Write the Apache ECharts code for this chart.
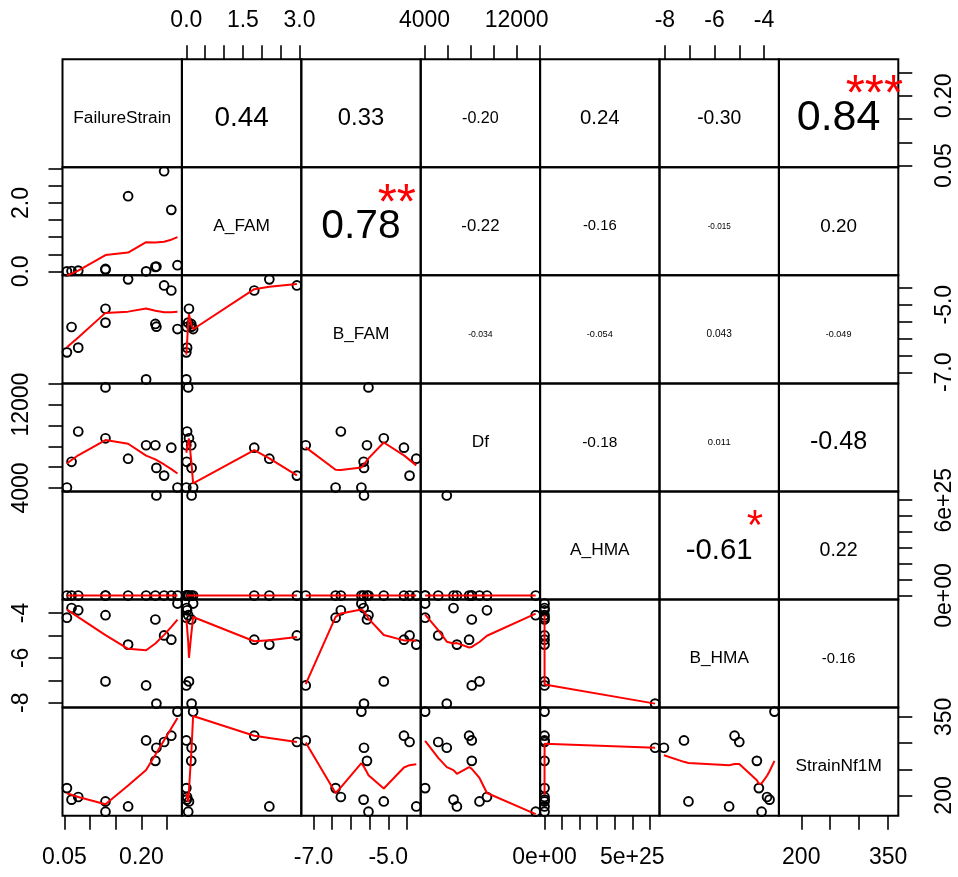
<!DOCTYPE html>
<html><head><meta charset="utf-8">
<script src="https://cdn.jsdelivr.net/npm/echarts@6/dist/echarts.min.js"></script>
<style>html,body{margin:0;padding:0;background:#fff}#c{width:958px;height:877px}</style>
</head><body><div id="c"></div>
<script>
// ---------------- data (12 observations) ----------------
const varNames = ['FailureStrain','A_FAM','B_FAM','Df','A_HMA','B_HMA','StrainNf1M'];
const FailureStrain = [0.055, 0.064, 0.077, 0.130, 0.130, 0.174, 0.209, 0.227, 0.229, 0.244, 0.258, 0.270];
const A_FAM        = [0.00, 0.01, 0.02, 0.07, 0.05, 2.20, 0.00, 0.13, 0.14, 2.93, 1.80, 0.18];
const B_FAM        = [-6.41, -5.66, -6.27, -5.12, -5.53, -4.25, -7.21, -5.57, -5.65, -4.43, -4.58, -5.72];
const Df           = [4050, 6515, 9420, 8770, 13650, 6810, 8100, 8100, 5930, 5190, 7870, 4050];
const A_HMA        = [5e20, 1e20, 2e20, 5e21, 3e20, 1.2e21, 3e22, 8e20, 6.3e25, 2.5e21, 3.5e21, 1.8e21];
const B_HMA        = [-4.21, -3.78, -3.88, -7.05, -4.10, -5.41, -7.23, -4.29, -8.04, -5.00, -5.19, -3.58];
const StrainNf1M   = [214, 192, 197, 188.5, 169, 179, 305, 266, 291, 302, 314, 360];

// correlation texts (upper triangle, row by row) and significance stars
const corrLabels = [
  ['0.44','0.33','-0.20','0.24','-0.30','0.84'],
  ['0.78','-0.22','-0.16','-0.015','0.20'],
  ['-0.034','-0.054','0.043','-0.049'],
  ['-0.18','0.011','-0.48'],
  ['-0.61','0.22'],
  ['-0.16']
];
const corrStars = [
  ['','','','','','***'],
  ['**','','','',''],
  ['','','',''],
  ['','',''],
  ['*',''],
  ['']
];

// tick values and labels per variable
const ticksFailureStrain = [0.05, 0.10, 0.15, 0.20, 0.25];
const labelsFailureStrain = [0.05, 0.20];
const labelTextFailureStrain = ['0.05', '0.20'];
const ticksA_FAM = [0, 0.5, 1.0, 1.5, 2.0, 2.5, 3.0];
const labelsA_FAM_top = [0, 1.5, 3.0];
const labelTextA_FAM_top = ['0.0', '1.5', '3.0'];
const labelsA_FAM_left = [0, 2.0];
const labelTextA_FAM_left = ['0.0', '2.0'];
const ticksB_FAM = [-7.0, -6.5, -6.0, -5.5, -5.0, -4.5];
const labelsB_FAM = [-7.0, -5.0];
const labelTextB_FAM = ['-7.0', '-5.0'];
const ticksDf = [4000, 6000, 8000, 10000, 12000, 14000];
const labelsDf = [4000, 12000];
const labelTextDf = ['4000', '12000'];
const ticksA_HMA = [0, 1e25, 2e25, 3e25, 4e25, 5e25, 6e25];
const labelsA_HMA_bottom = [0, 5e25];
const labelTextA_HMA_bottom = ['0e+00', '5e+25'];
const labelsA_HMA_right = [0, 6e25];
const labelTextA_HMA_right = ['0e+00', '6e+25'];
const ticksB_HMA = [-8, -7, -6, -5, -4];
const labelsB_HMA = [-8, -6, -4];
const labelTextB_HMA = ['-8', '-6', '-4'];
const ticksStrainNf1M = [200, 250, 300, 350];
const labelsStrainNf1M = [200, 350];
const labelTextStrainNf1M = ['200', '350'];

// ---------------- assembly ----------------
const vars = [FailureStrain, A_FAM, B_FAM, Df, A_HMA, B_HMA, StrainNf1M];
const N = vars.length;
const axisSpec = [
  {ticks: ticksFailureStrain, side: {bottom: [labelsFailureStrain, labelTextFailureStrain], right: [labelsFailureStrain, labelTextFailureStrain]}},
  {ticks: ticksA_FAM, side: {top: [labelsA_FAM_top, labelTextA_FAM_top], left: [labelsA_FAM_left, labelTextA_FAM_left]}},
  {ticks: ticksB_FAM, side: {bottom: [labelsB_FAM, labelTextB_FAM], right: [labelsB_FAM, labelTextB_FAM]}},
  {ticks: ticksDf, side: {top: [labelsDf, labelTextDf], left: [labelsDf, labelTextDf]}},
  {ticks: ticksA_HMA, side: {bottom: [labelsA_HMA_bottom, labelTextA_HMA_bottom], right: [labelsA_HMA_right, labelTextA_HMA_right]}},
  {ticks: ticksB_HMA, side: {top: [labelsB_HMA, labelTextB_HMA], left: [labelsB_HMA, labelTextB_HMA]}},
  {ticks: ticksStrainNf1M, side: {bottom: [labelsStrainNf1M, labelTextStrainNf1M], right: [labelsStrainNf1M, labelTextStrainNf1M]}}
];

// R-style axis range (4% extension)
const ranges = vars.map(v => {
  const mn = Math.min(...v), mx = Math.max(...v), r = mx - mn;
  return [mn - 0.04 * r, mx + 0.04 * r];
});

// R's lowess (clowess) port
function lowest(x, y, n, xs, nleft, nright, w, userw, rw) {
  const range = x[n] - x[1];
  const h = Math.max(xs - x[nleft], x[nright] - xs);
  const h9 = 0.999 * h, h1 = 0.001 * h;
  let a = 0, j = nleft;
  while (j <= n) {
    w[j] = 0;
    const r = Math.abs(x[j] - xs);
    if (r <= h9) {
      if (r <= h1) w[j] = 1; else { const q = r / h; w[j] = Math.pow(1 - q * q * q, 3); }
      if (userw) w[j] *= rw[j];
      a += w[j];
    } else if (x[j] > xs) break;
    j++;
  }
  const nrt = j - 1;
  if (a <= 0) return {ok: false};
  for (j = nleft; j <= nrt; j++) w[j] /= a;
  if (h > 0) {
    a = 0;
    for (j = nleft; j <= nrt; j++) a += w[j] * x[j];
    let b = xs - a, c = 0;
    for (j = nleft; j <= nrt; j++) c += w[j] * (x[j] - a) * (x[j] - a);
    if (Math.sqrt(c) > 0.001 * range) {
      b /= c;
      for (j = nleft; j <= nrt; j++) w[j] *= (b * (x[j] - a) + 1);
    }
  }
  let ys = 0;
  for (j = nleft; j <= nrt; j++) ys += w[j] * y[j];
  return {ok: true, ys};
}
function lowess(xIn, yIn, f, nsteps) {
  const n = xIn.length;
  const ord = xIn.map((_, i) => i).sort((p, q) => xIn[p] - xIn[q]);
  const x = [0].concat(ord.map(i => xIn[i])), y = [0].concat(ord.map(i => yIn[i]));
  const delta = 0.01 * (x[n] - x[1]);
  const ys = new Array(n + 1).fill(0), rw = new Array(n + 1).fill(0), res = new Array(n + 1).fill(0), w = new Array(n + 1).fill(0);
  let ns = Math.floor(f * n + 1e-7); if (ns > n) ns = n; else if (ns < 2) ns = 2;
  let iter = 1;
  while (iter <= nsteps + 1) {
    let nleft = 1, nright = ns, last = 0, i = 1;
    for (;;) {
      if (nright < n) {
        const d1 = x[i] - x[nleft], d2 = x[nright + 1] - x[i];
        if (d1 > d2) { nleft++; nright++; continue; }
      }
      const rr = lowest(x, y, n, x[i], nleft, nright, w, iter > 1, rw);
      ys[i] = rr.ok ? rr.ys : y[i];
      if (last < i - 1) {
        const denom = x[i] - x[last];
        for (let j = last + 1; j < i; j++) { const al = (x[j] - x[last]) / denom; ys[j] = al * ys[i] + (1 - al) * ys[last]; }
      }
      last = i;
      const cut = x[last] + delta;
      for (i = last + 1; i <= n; i++) {
        if (x[i] > cut) break;
        if (x[i] === x[last]) { ys[i] = ys[last]; last = i; }
      }
      i = Math.max(last + 1, i - 1);
      if (last >= n) break;
    }
    for (let k = 1; k <= n; k++) res[k] = y[k] - ys[k];
    let sc = 0; for (let k = 1; k <= n; k++) sc += Math.abs(res[k]); sc /= n;
    if (iter > nsteps) break;
    const s = []; for (let k = 1; k <= n; k++) s.push(Math.abs(res[k]));
    s.sort((p, q) => p - q);
    const m1 = Math.floor(n / 2);
    let cmad;
    if (n % 2 === 0) { const m2 = n - m1 - 1; cmad = 3 * (s[m1] + s[m2]); } else cmad = 6 * s[m1];
    if (cmad < 1e-7 * sc) break;
    const c9 = 0.999 * cmad, c1 = 0.001 * cmad;
    for (let k = 1; k <= n; k++) {
      const r = Math.abs(res[k]);
      rw[k] = r <= c1 ? 1 : (r <= c9 ? Math.pow(1 - (r / cmad) * (r / cmad), 2) : 0);
    }
    iter++;
  }
  const out = [];
  for (let k = 1; k <= n; k++) out.push([x[k], ys[k]]);
  return out;
}

// ---------------- layout / style ----------------
const L0 = 62.5, T0 = 59.2, CW = 119.4, CH = 108.07;
const FONT = '"Liberation Sans", Arial, Helvetica, sans-serif';
const TICK_FS = 23;
const TEXT_SHIFT = 5;
const margins = {top: 27, bottom: 30, left: 29, right: 35};

const grids = [], xAxes = [], yAxes = [], series = [], elements = [];

function makeAxis(v, gi, side) {
  const ax = {
    type: 'value', gridIndex: gi, min: ranges[v][0], max: ranges[v][1],
    splitLine: {show: false}, axisLine: {show: false},
    axisTick: {show: false}, axisLabel: {show: false}, show: false
  };
  if (side) {
    const [vals, txts] = axisSpec[v].side[side];
    ax.show = true;
    ax.position = side;
    ax.axisTick = {show: true, length: 14, lineStyle: {color: '#000', width: 1.6}, customValues: axisSpec[v].ticks};
    ax.axisLabel = {
      show: true, customValues: vals, color: '#000', fontSize: TICK_FS, fontFamily: FONT,
      margin: margins[side], hideOverlap: false,
      rotate: (side === 'left' || side === 'right') ? 90 : 0,
      formatter: function (val) {
        let best = 0, bd = Infinity;
        vals.forEach((t, k) => { const d = Math.abs(t - val); if (d < bd) { bd = d; best = k; } });
        return txts[best];
      }
    };
  }
  return ax;
}

const mctx = document.createElement('canvas').getContext('2d');
function emWidth(txt) { mctx.font = '100px ' + FONT; return mctx.measureText(txt).width / 100; }

for (let r = 0; r < N; r++) {
  for (let c = 0; c < N; c++) {
    const gi = r * N + c;
    const gl = L0 + c * CW, gt = T0 + r * CH;
    grids.push({left: gl, top: gt, width: CW, height: CH, show: true, borderColor: '#000', borderWidth: 2,
      backgroundColor: 'rgba(0,0,0,0)', containLabel: false, outerBoundsMode: 'none'});
    let xside = null, yside = null;
    if (r === 0 && c % 2 === 1) xside = 'top';
    if (r === N - 1 && c % 2 === 0) xside = 'bottom';
    if (c === 0 && r % 2 === 1) yside = 'left';
    if (c === N - 1 && r % 2 === 0) yside = 'right';
    xAxes.push(makeAxis(c, gi, xside));
    yAxes.push(makeAxis(r, gi, yside));
    const cx = gl + CW / 2, cy = gt + CH / 2;
    if (r > c) {
      const pts = vars[c].map((xv, k) => [xv, vars[r][k]]);
      series.push({type: 'scatter', xAxisIndex: gi, yAxisIndex: gi, data: pts, symbol: 'circle', symbolSize: 8.8,
        itemStyle: {color: 'rgba(0,0,0,0)', borderColor: '#000', borderWidth: 1.9, opacity: 1},
        clip: false, silent: true, animation: false, z: 2});
      series.push({type: 'line', xAxisIndex: gi, yAxisIndex: gi, data: lowess(vars[c], vars[r], 2 / 3, 3),
        showSymbol: false, symbol: 'none', lineStyle: {color: '#ff0000', width: 2}, clip: false, silent: true, animation: false, z: 3});
    } else if (r === c) {
      elements.push({type: 'text', x: cx, y: cy + TEXT_SHIFT, silent: true,
        style: {text: varNames[r], fontSize: 17.3, fontFamily: FONT, fill: '#000', align: 'center', verticalAlign: 'middle'}});
    } else {
      const txt = corrLabels[r][c - r - 1];
      const rv = Math.abs(parseFloat(txt));
      const fullFs = 0.8 * CW / emWidth(txt);
      const fs = fullFs * (rv + 0.3) / 1.3;
      elements.push({type: 'text', x: cx, y: cy + TEXT_SHIFT, silent: true,
        style: {text: txt, fontSize: fs, fontFamily: FONT, fill: '#000', align: 'center', verticalAlign: 'middle'}});
      const st = corrStars[r][c - r - 1];
      if (st) {
        elements.push({type: 'text', x: gl + 0.8 * CW, y: gt + 0.2 * CH + 0.226 * fullFs + TEXT_SHIFT, silent: true,
          style: {text: st, fontSize: fullFs, fontFamily: FONT, fill: '#ff0000', align: 'center', verticalAlign: 'middle'}});
      }
    }
  }
}

const chart = echarts.init(document.getElementById('c'), null, {renderer: 'canvas', width: 958, height: 877});
chart.setOption({
  animation: false,
  backgroundColor: '#ffffff',
  grid: grids, xAxis: xAxes, yAxis: yAxes, series: series,
  graphic: {elements: elements}
});
</script>
</body></html>
